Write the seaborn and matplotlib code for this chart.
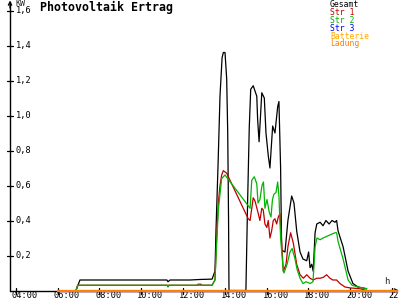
import matplotlib
matplotlib.use("Agg")
import matplotlib.pyplot as plt
import seaborn as sns
import pandas as pd

sns.set_style("white")
plt.rcParams['font.family'] = ['DejaVu Sans Mono', 'DejaVu Sans']

# ---------------- data (hours, kW) ----------------
t_gesamt = [6.88, 7.07, 11.23, 11.28, 11.38, 12.34, 12.81, 13.39, 13.53, 13.58, 13.68, 13.77,
            13.87, 13.93, 14.01, 14.09, 14.14, 14.18, 14.20, 15.01, 15.09, 15.17, 15.24,
            15.36, 15.53, 15.57, 15.64, 15.77, 15.89, 15.97, 16.08, 16.16, 16.29, 16.40,
            16.53, 16.59, 16.67, 16.72, 16.88, 17.02, 17.20, 17.31, 17.44, 17.60, 17.74,
            17.92, 18.01, 18.08, 18.16, 18.23, 18.32, 18.40, 18.56, 18.70, 18.84, 18.99,
            19.13, 19.27, 19.35, 19.42, 19.66, 19.90, 20.13, 20.37, 20.79]
v_gesamt = [0.00, 0.06, 0.06, 0.05, 0.06, 0.06, 0.063, 0.065, 0.11, 0.35, 0.73, 1.11,
            1.33, 1.36, 1.36, 1.21, 0.90, 0.40, 0.00, 0.00, 0.50, 0.93, 1.15,
            1.17, 1.11, 0.98, 0.85, 1.13, 1.10, 0.90, 0.77, 0.70, 0.94, 0.90,
            1.05, 1.08, 0.70, 0.23, 0.22, 0.40, 0.54, 0.50, 0.34, 0.22, 0.18,
            0.17, 0.22, 0.13, 0.15, 0.11, 0.33, 0.38, 0.39, 0.37, 0.40, 0.38,
            0.40, 0.39, 0.40, 0.34, 0.25, 0.11, 0.04, 0.02, 0.01]

t_str1 = [6.88, 6.96, 12.70, 12.72, 12.86, 12.88, 13.39, 13.53, 13.61, 13.69, 13.77, 13.85,
          13.93, 14.09, 15.12, 15.21, 15.36, 15.45, 15.60, 15.68, 15.77, 15.84, 15.92,
          16.01, 16.08, 16.16, 16.24, 16.32, 16.40, 16.48, 16.56, 16.64, 16.80, 16.93,
          17.02, 17.15, 17.28, 17.44, 17.60, 17.76, 17.92, 18.08, 18.23, 18.40, 18.56,
          18.71, 18.87, 19.03, 19.17, 19.35, 19.51, 19.75, 19.99, 20.47, 20.79]
v_str1 = [0.00, 0.03, 0.03, 0.036, 0.036, 0.03, 0.03, 0.06, 0.30, 0.50, 0.60, 0.66,
          0.685, 0.67, 0.41, 0.40, 0.53, 0.51, 0.44, 0.40, 0.47, 0.46, 0.38,
          0.36, 0.40, 0.30, 0.34, 0.40, 0.41, 0.38, 0.42, 0.44, 0.11, 0.15,
          0.25, 0.33, 0.27, 0.15, 0.09, 0.07, 0.09, 0.07, 0.06, 0.07, 0.07,
          0.075, 0.09, 0.07, 0.06, 0.06, 0.04, 0.02, 0.015, 0.01, 0.00]

t_str2 = [6.88, 6.96, 11.23, 11.28, 11.35, 13.39, 13.53, 13.61, 13.69, 13.77, 13.85, 14.01,
          15.21, 15.29, 15.41, 15.53, 15.59, 15.68, 15.78, 15.85, 15.92, 16.02, 16.12,
          16.21, 16.28, 16.35, 16.45, 16.53, 16.59, 16.67, 16.80, 16.83, 16.98, 17.12,
          17.22, 17.36, 17.46, 17.60, 17.74, 17.89, 18.08, 18.22, 18.32, 18.41, 18.56,
          18.70, 18.89, 19.08, 19.27, 19.35, 19.42, 19.66, 19.90, 20.09, 20.37, 20.79]
v_str2 = [0.00, 0.03, 0.03, 0.02, 0.03, 0.03, 0.06, 0.27, 0.46, 0.55, 0.64, 0.66,
          0.47, 0.63, 0.65, 0.61, 0.50, 0.52, 0.60, 0.62, 0.47, 0.52, 0.45,
          0.42, 0.52, 0.55, 0.56, 0.62, 0.54, 0.30, 0.11, 0.10, 0.15, 0.22,
          0.24, 0.18, 0.12, 0.07, 0.04, 0.05, 0.04, 0.05, 0.25, 0.30, 0.29,
          0.30, 0.31, 0.32, 0.33, 0.33, 0.28, 0.18, 0.06, 0.03, 0.02, 0.01]

t_str3 = [6.0, 22.24]
v_str3 = [0.0, 0.0]
t_batterie = [6.0, 22.24]
v_batterie = [0.0, 0.0]
t_ladung = [6.0, 22.24]
v_ladung = [0.0, 0.0]

series_names = ["Gesamt", "Str 1", "Str 2", "Str 3", "Batterie", "Ladung"]
series_colors = ["#000000", "#C00000", "#00B400", "#0000FF", "#FFAA00", "#FF8000"]

y_ticks = [0.2, 0.4, 0.6, 0.8, 1.0, 1.2, 1.4, 1.6]
y_tick_labels = ["0,2", "0,4", "0,6", "0,8", "1,0", "1,2", "1,4", "1,6"]
x_ticks = [4, 6, 8, 10, 12, 14, 16, 18, 20, 22]
x_tick_labels = ["04:00", "06:00", "08:00", "10:00", "12:00", "14:00", "16:00",
                 "18:00", "20:00", "22:00"]

# ---------------- layout ----------------
PX0, PXH = 15.8, 20.9      # pixel x of 04:00, pixels per hour
PY0, PYV = 290.5, 175.0    # pixel y of 0 kW, pixels per kW


def hx(px):
    return 4 + (px - PX0) / PXH


def vy(py):
    return (PY0 - py) / PYV


fig = plt.figure(figsize=(4, 3), dpi=100)
fig.patch.set_facecolor("white")
ax = fig.add_axes([0, 0, 1, 1])
ax.set_xlim(hx(0), hx(400))
ax.set_ylim(vy(300), vy(0))
ax.axis("off")

frames = []
for name, t, v in zip(series_names,
                      [t_gesamt, t_str1, t_str2, t_str3, t_batterie, t_ladung],
                      [v_gesamt, v_str1, v_str2, v_str3, v_batterie, v_ladung]):
    frames.append(pd.DataFrame({"t": t, "kW": v, "serie": name}))
df = pd.concat(frames, ignore_index=True)

# axes lines
x_axis = hx(10)
ax.plot([x_axis, x_axis], [0, vy(2)], color="black", lw=1.0, zorder=1)
ax.plot([x_axis, hx(397)], [0, 0], color="black", lw=1.0, zorder=1)
ax.annotate("", xy=(x_axis, vy(0.5)), xytext=(x_axis, vy(8)),
            arrowprops=dict(arrowstyle="->", lw=0.9, color="black",
                            mutation_scale=6, shrinkA=0, shrinkB=0))
ax.annotate("", xy=(hx(399), 0), xytext=(hx(390), 0),
            arrowprops=dict(arrowstyle="->", lw=0.9, color="black",
                            mutation_scale=6, shrinkA=0, shrinkB=0))

# ticks
dx = 3 / PXH
dy = 3 / PYV
for yt, lab in zip(y_ticks, y_tick_labels):
    ax.plot([x_axis - dx, x_axis + dx], [yt, yt], color="black", lw=0.9, zorder=1)
    ax.text(hx(16), yt, lab, fontsize=6.2, ha="left", va="center", color="black")
for xt, lab in zip(x_ticks, x_tick_labels):
    ax.plot([xt, xt], [-dy, dy], color="black", lw=0.9, zorder=1)
    ax.text(xt - 4 / PXH, vy(295.5), lab, fontsize=6.2, ha="left", va="center",
            color="black")

ax.text(hx(15), vy(3.5), "KW", fontsize=6.0, ha="left", va="center")
ax.text(hx(384.5), vy(282), "h", fontsize=6.5, ha="left", va="center")

# series
lw_map = {"Gesamt": 0.9, "Str 1": 0.9, "Str 2": 0.9, "Str 3": 0.9,
          "Batterie": 1.5, "Ladung": 1.6}
for i, (name, col) in enumerate(zip(series_names, series_colors)):
    sub = df[df["serie"] == name]
    sns.lineplot(data=sub, x="t", y="kW", color=col, lw=lw_map[name], ax=ax,
                 estimator=None, sort=False, legend=False, zorder=2 + i)
ax.axis("off")
ax.set_xlim(hx(0), hx(400))
ax.set_ylim(vy(300), vy(0))

# title
ax.text(hx(39.5), vy(7), "Photovoltaik Ertrag", fontsize=8.4, fontweight="bold",
        ha="left", va="center", color="black")

# legend (text list)
legend_y = [4.5, 12.5, 20.5, 28.5, 36.3, 44.0]
for name, col, py in zip(series_names, series_colors, legend_y):
    ax.text(hx(330), vy(py), name, fontsize=5.9, ha="left", va="center", color=col)

fig.savefig("out.png", dpi=100, facecolor="white")
